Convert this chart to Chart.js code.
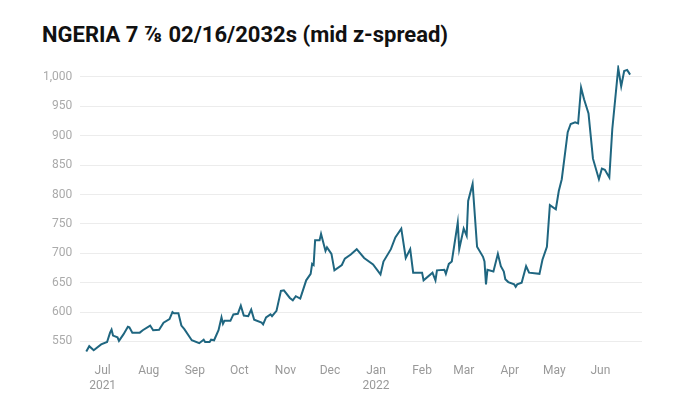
<!DOCTYPE html>
<html>
<head>
<meta charset="utf-8">
<script src="https://cdn.jsdelivr.net/npm/chart.js@4"></script>
<style>
  body { margin: 0; background: #fff; font-family: Roboto, sans-serif; }
  h1 { position: absolute; left: 42px; top: 22px; margin: 0; font-size: 22px; font-weight: 700; color: #111; }
  #wrap { position: absolute; left: 0; top: 50px; width: 642px; height: 346px; }
</style>
</head>
<body>
<h1>NGERIA 7 ⅞ 02/16/2032s (mid z-spread)</h1>
<div id="wrap"><canvas id="c"></canvas></div>
<script>
// days counted from 1 Jul 2021
const days = [-11,-9,-6,-1,3,5,6,7,10,11,14,17,18,20,25,27,32,34,38,41,45,47,48,51,53,55,60,65,68,69,72,73,75,78,80,81,82,86,88,91,93,95,98,100,102,107,108,110,113,114,117,120,122,126,128,130,133,137,140,141,142,143,146,147,150,151,154,156,161,163,167,171,176,182,187,189,194,197,201,204,207,209,215,216,222,224,225,230,231,233,235,239,240,243,245,246,249,252,256,257,258,259,263,266,268,270,271,273,277,278,279,282,285,287,294,296,299,301,305,307,309,313,315,318,320,322,324,327,330,334,336,338,341,343,347,349,351,353,355];
const spread = [533,542,535,545,549,565,570,560,557,551,562,575,574,565,565,569,577,569,570,582,588,600,598,598,577,571,552,547,553,549,549,553,552,569,591,580,585,585,596,597,611,594,593,604,587,582,579,591,596,593,602,636,637,624,620,627,623,654,665,682,680,722,722,733,704,710,699,671,680,691,698,707,692,681,664,686,707,727,742,692,707,667,667,654,667,654,671,672,665,682,686,752,707,742,730,789,818,711,694,686,647,672,669,699,678,669,656,651,647,643,647,650,678,667,665,689,711,782,775,806,826,906,920,923,921,982,962,938,861,826,844,842,829,911,1015,984,1010,1012,1004];
const monthDays = [0,31,62,92,123,153,184,215,243,274,304,335];
const monthLabels = [['Jul','2021'],'Aug','Sep','Oct','Nov','Dec',['Jan','2022'],'Feb','Mar','Apr','May','Jun'];
const yTicks = [550,600,650,700,750,800,850,900,950,1000];

const points = days.map((d, i) => ({ x: d, y: spread[i] }));

new Chart(document.getElementById('c'), {
  type: 'line',
  data: { datasets: [{ data: points, borderColor: '#1f6680', borderWidth: 2, pointRadius: 0, tension: 0, fill: false }] },
  options: {
    responsive: true,
    maintainAspectRatio: false,
    animation: false,
    layout: { padding: { left: 35, right: 0, top: 0, bottom: 0 } },
    plugins: { legend: { display: false }, tooltip: { enabled: false } },
    scales: {
      x: {
        type: 'linear', min: -15, max: 363,
        grid: { display: false }, border: { display: false },
        afterBuildTicks: ax => { ax.ticks = monthDays.map(v => ({ value: v })); },
        ticks: {
          autoSkip: false, maxRotation: 0, color: '#999', font: { family: 'Roboto', size: 12 },
          callback: (v) => monthLabels[monthDays.indexOf(v)]
        }
      },
      y: {
        min: 530, max: 1020,
        border: { display: false },
        grid: { color: '#ececec', drawTicks: false },
        afterBuildTicks: ax => { ax.ticks = yTicks.map(v => ({ value: v })); },
        ticks: { color: '#aaa', padding: 8, font: { family: 'Roboto', size: 12 },
          callback: v => v.toLocaleString('en-US') }
      }
    }
  }
});
</script>
</body>
</html>
